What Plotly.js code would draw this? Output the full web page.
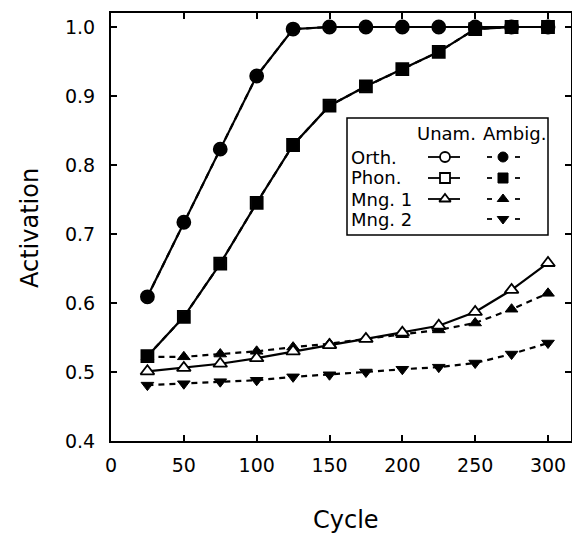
<!DOCTYPE html>
<html>
<head>
<meta charset="utf-8">
<script src="https://cdn.plot.ly/plotly-3.0.1.min.js"></script>
<style>html,body{margin:0;padding:0;background:#fff;} #chart{width:572px;height:535px;}</style>
</head>
<body>
<div id="chart"></div>
<script>
// ---- data ----
const cycles = [25, 50, 75, 100, 125, 150, 175, 200, 225, 250, 275, 300];
const orthUnam  = [0.609, 0.717, 0.823, 0.929, 0.997, 1.0, 1.0, 1.0, 1.0, 1.0, 1.0, 1.0];
const orthAmbig = [0.609, 0.717, 0.823, 0.929, 0.997, 1.0, 1.0, 1.0, 1.0, 1.0, 1.0, 1.0];
const phonUnam  = [0.523, 0.580, 0.657, 0.745, 0.829, 0.886, 0.914, 0.939, 0.964, 0.997, 1.0, 1.0];
const phonAmbig = [0.523, 0.580, 0.657, 0.745, 0.829, 0.886, 0.914, 0.939, 0.964, 0.997, 1.0, 1.0];
const mng1Unam  = [0.501, 0.506, 0.512, 0.520, 0.530, 0.539, 0.548, 0.557, 0.567, 0.587, 0.619, 0.658];
const mng1Ambig = [0.522, 0.522, 0.526, 0.530, 0.536, 0.541, 0.548, 0.554, 0.561, 0.571, 0.591, 0.614];
const mng2Ambig = [0.481, 0.483, 0.486, 0.488, 0.493, 0.496, 0.500, 0.504, 0.507, 0.513, 0.526, 0.542];
const xTicks = [0, 50, 100, 150, 200, 250, 300];
const yTicks = [0.4, 0.5, 0.6, 0.7, 0.8, 0.9, 1.0];
const yTickText = ['0.4', '0.5', '0.6', '0.7', '0.8', '0.9', '1.0'];
const rowLabels = ['Orth.', 'Phon.', 'Mng. 1', 'Mng. 2'];
const colLabels = ['Unam.', 'Ambig.'];

// ---- layout helpers ----
const W = 572, H = 535;
const M = {l: 111, r: 1, t: 13, b: 94};
const PW = W - M.l - M.r, PH = H - M.t - M.b;
const px = x => (x - M.l) / PW;       // page px -> paper x
const py = y => (M.t + PH - y) / PH;  // page px -> paper y
const FONT = 'DejaVu Sans, Liberation Sans, Arial, sans-serif';
const BLK = '#000';

const unamStyle = {mode: 'lines+markers', line: {color: BLK, width: 2.2, dash: 'solid'}};
const ambigStyle = {mode: 'lines+markers', line: {color: BLK, width: 2.2, dash: '6px,5px'}};
const openM = (sym, size) => ({symbol: sym, size: size, color: '#fff', line: {color: BLK, width: 1.8}});
const fillM = (sym, size) => ({symbol: sym, size: size, color: BLK, line: {color: BLK, width: 1}});

const traces = [
  Object.assign({x: cycles, y: mng2Ambig, marker: fillM('triangle-down', 11)}, ambigStyle),
  Object.assign({x: cycles, y: mng1Ambig, marker: fillM('triangle-up', 11)}, ambigStyle),
  Object.assign({x: cycles, y: mng1Unam, marker: openM('triangle-up', 12)}, unamStyle),
  Object.assign({x: cycles, y: phonUnam, marker: openM('square', 12)}, unamStyle),
  Object.assign({x: cycles, y: orthUnam, marker: openM('circle', 13)}, unamStyle),
  Object.assign({x: cycles, y: phonAmbig, marker: fillM('square', 11)}, ambigStyle),
  Object.assign({x: cycles, y: orthAmbig, marker: fillM('circle', 12)}, ambigStyle)
];

// ---- legend keys (on an overlay paper-like axis) ----
const box = {x0: 347, x1: 548, y0: 118, y1: 235};
const rowY = [157, 178, 199, 219];
const headY = 134;
const unamX = [428, 445, 460];
const ambigX = [487, 503, 520];
const unamSyms = ['circle', 'square', 'triangle-up', null];
const ambigSyms = ['circle', 'square', 'triangle-up', 'triangle-down'];
const shapes = [{type: 'rect', xref: 'paper', yref: 'paper', x0: px(box.x0), x1: px(box.x1), y0: py(box.y0), y1: py(box.y1),
  line: {color: BLK, width: 1.5}, fillcolor: 'rgba(0,0,0,0)', layer: 'above'}];
const keyTraces = [];
rowY.forEach((ry, i) => {
  if (unamSyms[i]) {
    keyTraces.push({x: [px(unamX[0]), px(unamX[2])], y: [py(ry), py(ry)], xaxis: 'x2', yaxis: 'y2', mode: 'lines',
      line: {color: BLK, width: 1.8}});
    keyTraces.push({x: [px(unamX[1])], y: [py(ry)], xaxis: 'x2', yaxis: 'y2', mode: 'markers',
      marker: openM(unamSyms[i], 10)});
  }
  keyTraces.push({x: [px(ambigX[0]), px(ambigX[0] + 5)], y: [py(ry), py(ry)], xaxis: 'x2', yaxis: 'y2', mode: 'lines',
    line: {color: BLK, width: 1.8}});
  keyTraces.push({x: [px(ambigX[2] - 5), px(ambigX[2])], y: [py(ry), py(ry)], xaxis: 'x2', yaxis: 'y2', mode: 'lines',
    line: {color: BLK, width: 1.8}});
  keyTraces.push({x: [px(ambigX[1])], y: [py(ry)], xaxis: 'x2', yaxis: 'y2', mode: 'markers',
    marker: fillM(ambigSyms[i], 10)});
});

const LF = 18;
const annotations = [
  {text: 'Activation', xref: 'paper', yref: 'paper', x: px(30), y: py(228), textangle: -90, showarrow: false,
   font: {family: FONT, size: 24, color: BLK}, xanchor: 'center', yanchor: 'middle'},
  {text: 'Cycle', xref: 'paper', yref: 'paper', x: px(346), y: py(520), showarrow: false,
   font: {family: FONT, size: 24, color: BLK}, xanchor: 'center', yanchor: 'middle'},
  {text: colLabels[0], xref: 'paper', yref: 'paper', x: px(446), y: py(headY), showarrow: false,
   font: {family: FONT, size: LF, color: BLK}, xanchor: 'center', yanchor: 'middle', borderpad: 0},
  {text: colLabels[1], xref: 'paper', yref: 'paper', x: px(514), y: py(headY), showarrow: false,
   font: {family: FONT, size: LF, color: BLK}, xanchor: 'center', yanchor: 'middle', borderpad: 0}
];
rowLabels.forEach((t, i) => annotations.push({text: t, xref: 'paper', yref: 'paper', x: px(350), y: py(rowY[i]),
  showarrow: false, font: {family: FONT, size: LF, color: BLK}, xanchor: 'left', yanchor: 'middle', borderpad: 0}));

const layout = {
  width: W, height: H,
  margin: M,
  paper_bgcolor: '#fff', plot_bgcolor: '#fff',
  showlegend: false,
  font: {family: FONT, size: 19, color: BLK},
  xaxis: {range: [0, 300 * PW / 437], tickvals: xTicks, ticktext: xTicks.map(String), ticks: 'inside', ticklen: 6,
    tickwidth: 2, tickcolor: BLK, showline: true, linewidth: 2, linecolor: BLK, mirror: 'ticks', showgrid: false,
    zeroline: false, tickfont: {family: FONT, size: 19, color: BLK}, ticklabelstandoff: 6},
  yaxis: {range: [0.4, 0.4 + PH / 690], tickvals: yTicks, ticktext: yTickText, ticks: 'inside', ticklen: 6,
    tickwidth: 2, tickcolor: BLK, showline: true, linewidth: 2, linecolor: BLK, mirror: 'ticks', showgrid: false,
    zeroline: false, tickfont: {family: FONT, size: 19, color: BLK}, ticklabelstandoff: 10},
  xaxis2: {range: [0, 1], overlaying: 'x', visible: false, fixedrange: true},
  yaxis2: {range: [0, 1], overlaying: 'y', visible: false, fixedrange: true},
  shapes: shapes,
  annotations: annotations
};

Plotly.newPlot('chart', traces.concat(keyTraces), layout, {displayModeBar: false, staticPlot: true});
</script>
</body>
</html>
